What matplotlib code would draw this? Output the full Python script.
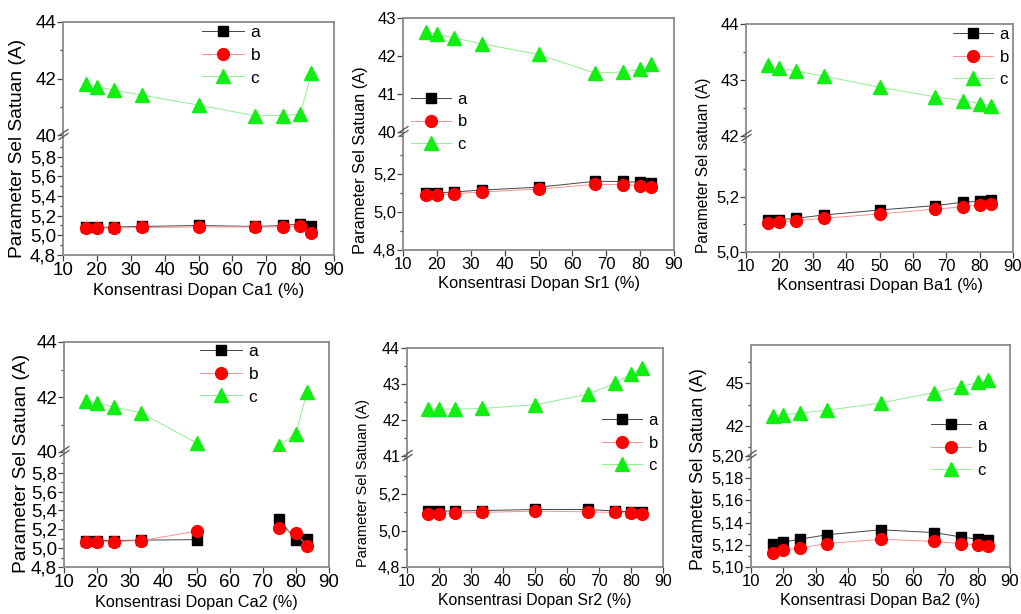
import numpy as np
import matplotlib
matplotlib.use("Agg")
import matplotlib.pyplot as plt
from matplotlib.ticker import FixedLocator, FuncFormatter
from matplotlib.lines import Line2D

# concentration of dopant (%)
x_conc = [16.67, 20, 25, 33.33, 50, 66.67, 75, 80, 83.33]

ca1_a = [5.08, 5.08, 5.085, 5.09, 5.10, 5.09, 5.10, 5.115, 5.09]
ca1_b = [5.07, 5.07, 5.075, 5.08, 5.085, 5.085, 5.085, 5.09, 5.02]
ca1_c = [41.79, 41.71, 41.59, 41.41, 41.06, 40.68, 40.69, 40.73, 42.18]

sr1_a = [5.10, 5.10, 5.105, 5.115, 5.13, 5.161, 5.16, 5.155, 5.15]
sr1_b = [5.088, 5.09, 5.095, 5.105, 5.12, 5.145, 5.143, 5.138, 5.133]
sr1_c = [42.63, 42.57, 42.48, 42.32, 42.04, 41.55, 41.58, 41.65, 41.78]

ba1_a = [5.116, 5.117, 5.122, 5.134, 5.152, 5.168, 5.18, 5.184, 5.188]
ba1_b = [5.104, 5.108, 5.114, 5.122, 5.138, 5.155, 5.164, 5.17, 5.174]
ba1_c = [43.26, 43.21, 43.16, 43.07, 42.87, 42.70, 42.63, 42.58, 42.54]

ca2_a = [5.08, 5.08, 5.08, 5.085, 5.09, np.nan, 5.305, 5.085, 5.095]
ca2_b = [5.07, 5.07, 5.07, 5.08, 5.18, np.nan, 5.21, 5.16, 5.02]
ca2_c = [41.84, 41.78, 41.64, 41.42, 40.33, np.nan, 40.23, 40.67, 42.18]

sr2_a = [5.107, 5.107, 5.108, 5.11, 5.116, 5.116, 5.108, 5.103, 5.10]
sr2_b = [5.093, 5.094, 5.096, 5.10, 5.107, 5.103, 5.10, 5.095, 5.092]
sr2_c = [42.30, 42.30, 42.30, 42.32, 42.42, 42.72, 43.02, 43.28, 43.45]

ba2_a = [5.1206, 5.1225, 5.125, 5.129, 5.1335, 5.131, 5.127, 5.125, 5.124]
ba2_b = [5.113, 5.115, 5.117, 5.121, 5.125, 5.123, 5.121, 5.120, 5.119]
ba2_c = [42.74, 42.79, 42.92, 43.11, 43.62, 44.36, 44.77, 45.07, 45.23]

xlabels = ["Konsentrasi Dopan Ca1 (%)", "Konsentrasi Dopan Sr1 (%)", "Konsentrasi Dopan Ba1 (%)",
           "Konsentrasi Dopan Ca2 (%)", "Konsentrasi Dopan Sr2 (%)", "Konsentrasi Dopan Ba2 (%)"]
ylabels = ["Parameter Sel Satuan (A)", "Parameter Sel Satuan (A)", "Parameter Sel satuan (A)",
           "Parameter Sel Satuan (A)", "Parameter Sel Satuan (A)", "Parameter Sel Satuan (A)"]
series_labels = ["a", "b", "c"]

W, H = 1021, 614

plt.rcParams['font.family'] = ['Liberation Sans', 'DejaVu Sans']

# layout per panel, pixels: left, right, top, break, bottom
panels = [
    dict(data=(ca1_a, ca1_b, ca1_c), box=(63, 334, 22, 135, 255),
         up=(40, 44, [40, 42, 44], [41, 43]), lo=(4.8, 6.02, np.arange(4.8, 5.81, 0.2), np.arange(4.9, 6.0, 0.2)), dec=1,
         leg=(202, 55), ylab=(18, 148), fs=(13.5, 12.2, 13.8, 12.5)),
    dict(data=(sr1_a, sr1_b, sr1_c), box=(403, 674, 18, 132, 250),
         up=(40, 43, [40, 41, 42, 43], []), lo=(4.8, 5.42, [4.8, 5.0, 5.2], [4.9, 5.1, 5.3, 5.4]), dec=1,
         leg=(411, 122), ylab=(360, 160), fs=(12.0, 11.9, 11.8, 12.0)),
    dict(data=(ba1_a, ba1_b, ba1_c), box=(746, 1013, 24, 136, 252),
         up=(42, 44, [42, 43, 44], [42.5, 43.5]), lo=(5.0, 5.42, [5.0, 5.2], [5.1, 5.3, 5.4]), dec=1,
         leg=(953, 57), ylab=(703, 165), fs=(12.0, 11.9, 11.2, 12.0)),
    dict(data=(ca2_a, ca2_b, ca2_c), box=(64, 329, 342, 452, 567),
         up=(40, 44, [40, 42, 44], [41, 43]), lo=(4.8, 6.02, np.arange(4.8, 5.81, 0.2), np.arange(4.9, 6.0, 0.2)), dec=1,
         leg=(200, 374), ylab=(22, 463), fs=(13.5, 11.7, 13.8, 12.5)),
    dict(data=(sr2_a, sr2_b, sr2_c), box=(407, 663, 348, 456, 567),
         up=(41, 44, [41, 42, 43, 44], [41.5, 42.5, 43.5]), lo=(4.8, 5.41, [4.8, 5.0, 5.2], [4.9, 5.1, 5.3, 5.4]), dec=1,
         leg=(602, 443), ylab=(363, 483), fs=(11.5, 11.4, 10.5, 12.0)),
    dict(data=(ba2_a, ba2_b, ba2_c), box=(751, 1010, 345, 456, 567),
         up=(39.9, 47.7, [42, 45], [40.5, 43.5, 46.5]), lo=(5.10, 5.20, np.arange(5.10, 5.201, 0.02), np.arange(5.11, 5.20, 0.02)), dec=2,
         leg=(931, 448), ylab=(698, 469), fs=(12.0, 11.6, 12.7, 12.0)),
]

styles = [
    dict(color='#444444', marker='s', mfc='black', mec='black', ms=7),
    dict(color='#ff9090', marker='o', mfc='#ff0000', mec='#ff0000', ms=8.5),
    dict(color='#90ee90', marker='^', mfc='#11ee11', mec='#11ee11', ms=9.5),
]

spine_col = '#8a8a8a'

fig = plt.figure(figsize=(W / 100, H / 100), dpi=100)


def frac(px, py):
    return px / W, 1 - py / H


for i, p in enumerate(panels):
    left, right, top, brk, bottom = p['box']
    tick_fs, xlab_fs, ylab_fs, leg_fs = p['fs']
    ax_up = fig.add_axes([left / W, 1 - brk / H, (right - left) / W, (brk - top) / H])
    ax_lo = fig.add_axes([left / W, 1 - bottom / H, (right - left) / W, (bottom - brk) / H])
    a, b, c = p['data']

    handles = []
    for ax, vals, st in [(ax_lo, a, styles[0]), (ax_lo, b, styles[1]), (ax_up, c, styles[2])]:
        ln, = ax.plot(x_conc, vals, linestyle='-', linewidth=0.7, color=st['color'],
                      marker=st['marker'], markersize=st['ms'], markerfacecolor=st['mfc'],
                      markeredgecolor=st['mec'], clip_on=False)
        handles.append(ln)

    for ax in (ax_up, ax_lo):
        ax.set_xlim(10, 90)
        for s in ax.spines.values():
            s.set_color(spine_col)
            s.set_linewidth(1.3)
        ax.tick_params(which='both', direction='out', color='#444444', width=0.9, right=False, top=False)
        ax.tick_params(which='major', length=4, labelsize=tick_fs, pad=1)
        ax.tick_params(which='minor', length=2.5)

    ax_up.spines['bottom'].set_visible(False)
    ax_lo.spines['top'].set_visible(False)
    ax_up.tick_params(axis='x', which='both', bottom=False, labelbottom=False)

    y0, y1, maj, mnr = p['up']
    ax_up.set_ylim(y0, y1)
    ax_up.yaxis.set_major_locator(FixedLocator(maj))
    ax_up.yaxis.set_minor_locator(FixedLocator(mnr))
    ax_up.yaxis.set_major_formatter(FuncFormatter(lambda v, pos: f"{v:.0f}"))

    y0, y1, maj, mnr = p['lo']
    dec = p['dec']
    ax_lo.set_ylim(y0, y1)
    ax_lo.yaxis.set_major_locator(FixedLocator(list(maj)))
    ax_lo.yaxis.set_minor_locator(FixedLocator(list(mnr)))
    ax_lo.yaxis.set_major_formatter(FuncFormatter(lambda v, pos, d=dec: f"{v:.{d}f}".replace('.', ',')))

    ax_lo.set_xticks(range(10, 91, 10))
    ax_lo.xaxis.set_major_formatter(FuncFormatter(lambda v, pos: f"{v:.0f}"))
    ax_lo.set_xlabel(xlabels[i], fontsize=xlab_fs, labelpad=3)

    # break marks on left spine
    for dy in (-2.5, 1.5):
        x0, yy0 = frac(left - 4, brk + dy + 3)
        x1, yy1 = frac(left + 5, brk + dy - 3)
        fig.add_artist(Line2D([x0, x1], [yy0, yy1], color='#555555', linewidth=0.9))

    yx, yy = frac(*p['ylab'])
    fig.text(yx, yy, ylabels[i], rotation=90, ha='center', va='center', fontsize=ylab_fs)

    lx, ly = frac(*p['leg'])
    fig.legend(handles, series_labels, loc='center left', bbox_to_anchor=(lx, ly),
               frameon=False, fontsize=leg_fs, handlelength=2.4, handletextpad=0.4,
               labelspacing=0.45, borderpad=0, borderaxespad=0)

fig.savefig("out.png", dpi=100)
